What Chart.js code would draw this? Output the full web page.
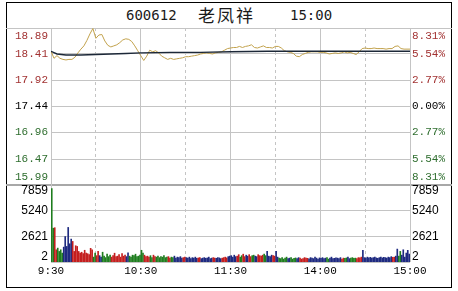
<!DOCTYPE html>
<html lang="zh-CN">
<head>
<meta charset="utf-8">
<title>600612 老凤祥 分时走势</title>
<script src="https://cdn.jsdelivr.net/npm/chart.js@4.4.1/dist/chart.umd.min.js"></script>
<style>
  html, body { margin: 0; padding: 0; background: #fff; }
  #wrap { position: relative; width: 458px; height: 291px; overflow: hidden; }
  #wrap canvas { position: absolute; left: 0; top: 0; }
  .frame { position: absolute; left: 6px; top: 2px; width: 446px; height: 286px; box-sizing: border-box; border: 1px solid #000; }
  .sep { position: absolute; left: 6px; width: 446px; }
  .sep.top { top: 28px; height: 1px; background: #c4c4c4; }
  .sep.mid { top: 184px; height: 2px; background: #a8a8a8; }
  .title { position: absolute; top: 6px; font: 14px/18px "DejaVu Sans Mono", monospace; color: #1a1a1a; }
  .title.name { font: 17px/18px "Noto Sans CJK SC", sans-serif; letter-spacing: 2px; }
</style>
</head>
<body>
<div id="wrap">
  <div class="frame"></div>
  <div class="sep top"></div>
  <div class="sep mid"></div>
  <span class="title" style="left:126px">600612</span>
  <span class="title name" style="left:198px">老凤祥</span>
  <span class="title" style="left:290px">15:00</span>
  <canvas id="priceChart" width="458" height="291"></canvas>
  <canvas id="volumeChart" width="458" height="291"></canvas>
</div>
<script>
const prevClose = 17.44;
const priceTicks = [18.89, 18.41, 17.92, 17.44, 16.96, 16.47, 15.99];
const percentTicks = ["8.31%", "5.54%", "2.77%", "0.00%", "2.77%", "5.54%", "8.31%"];
const volumeTicks = [7859, 5240, 2621, 2];
const gridMinutes = [0, 30, 60, 90, 120, 150, 180, 210, 240];
const labelMinutes = [0, 60, 120, 180, 240];
const timeLabels = ["9:30", "10:30", "11:30", "14:00", "15:00"];

// price every 2 minutes from 9:30 (index 0) to 15:00 (index 120)
const priceStep = 2;
const priceValues = [
  18.46, 18.33, 18.38, 18.33, 18.31, 18.30, 18.31, 18.31, 18.35, 18.43,
  18.50, 18.56, 18.66, 18.78, 18.88, 18.70, 18.76, 18.77, 18.65, 18.57,
  18.54, 18.56, 18.58, 18.62, 18.67, 18.69, 18.68, 18.64, 18.56, 18.47,
  18.38, 18.29, 18.37, 18.48, 18.45, 18.47, 18.43, 18.37, 18.34, 18.31,
  18.33, 18.31, 18.32, 18.33, 18.34, 18.36, 18.36, 18.37, 18.38, 18.39,
  18.41, 18.42, 18.43, 18.42, 18.41, 18.43, 18.44, 18.45, 18.48, 18.51,
  18.52, 18.53, 18.53, 18.55, 18.53, 18.55, 18.56, 18.58, 18.53, 18.52,
  18.54, 18.56, 18.53, 18.53, 18.52, 18.55, 18.55, 18.52, 18.47, 18.45,
  18.44, 18.42, 18.37, 18.36, 18.40, 18.42, 18.44, 18.45, 18.45, 18.45,
  18.44, 18.44, 18.43, 18.41, 18.42, 18.43, 18.42, 18.43, 18.45, 18.43,
  18.44, 18.42, 18.40, 18.45, 18.51, 18.52, 18.51, 18.51, 18.52, 18.51,
  18.51, 18.51, 18.50, 18.51, 18.51, 18.55, 18.56, 18.51, 18.50, 18.50, 18.50
];

const avgMinutes = [0, 4, 10, 20, 30, 40, 50, 60, 80, 100, 120, 145, 180, 240];
const avgValues = [18.46, 18.41, 18.39, 18.39, 18.40, 18.41, 18.42, 18.43, 18.44, 18.44, 18.45, 18.46, 18.46, 18.46];

// volume per minute (240 bars)
const volumes = [
  7500, 3450, 3500, 1250, 1420, 1080, 1250, 910, 1520, 2600,
  1590, 3530, 1860, 2340, 2100, 1080, 1660, 1590, 1080, 910,
  1000, 850, 1200, 900, 850, 750, 1400, 1250, 500, 900,
  650, 1080, 650, 500, 1000,
  600, 450, 800, 550, 700, 500, 650, 900, 550, 600,
  750, 500, 850, 600, 700, 550, 950, 600, 500, 700,
  650, 800, 550, 600, 700,
  1200,
  900, 700, 550, 600, 500, 650, 450, 700, 550, 500,
  600, 450, 550, 500, 650, 450, 500, 550, 400, 500,
  450, 600, 400, 500, 450, 550, 400, 450, 500,
  450, 400, 500, 350, 450, 400, 500, 380, 420, 450,
  350, 400, 450, 380, 420, 500, 350, 400, 450, 400,
  380, 450, 420, 350, 400, 450, 500, 420, 550, 600,
  650, 500, 700, 550, 600, 750, 500, 650, 800, 550,
  700, 600, 750, 550, 650, 700, 600, 550, 750, 650,
  600, 700, 800, 650, 1080, 600, 550, 700, 650, 600,
  1080, 500,
  400, 350, 450, 300, 400, 500, 350, 400, 450, 300,
  380, 420, 350, 450, 400, 300, 350, 450, 400, 380,
  320, 450, 400, 350, 500, 400, 300, 420, 380, 450,
  350, 400, 450, 300, 400, 500, 350, 380, 420, 400,
  350, 450, 300, 400, 380, 420, 500, 350, 400, 450,
  380, 400, 350, 450, 420, 500,
  1190,
  450, 400, 500, 420, 480, 400, 450, 500, 420, 380,
  450, 500, 420, 480, 450, 400, 500, 450, 550, 480,
  500, 600,
  1320, 600, 1085, 700, 1250, 500, 915, 1190, 800
];

const W = 458;
const H = 291;
const plotLeft = 51;
const plotRight = 410;
const priceTop = 28;
const priceBottom = 185;
const volumeBottom = 262;

function barColor(i) {
  const k = Math.floor(i / priceStep);
  const diff = priceValues[k + 1] - priceValues[k];
  if (diff > 0.012) return "#c41e1e";
  if (diff < -0.012) return "#1e7d1e";
  return "#1e2a80";
}

function priceColor(v) {
  if (v > prevClose) return "#a23232";
  if (v < prevClose) return "#2f6e2f";
  return "#000";
}

// draws the left / right axis texts; the edge ones sit inside the panel
const sideLabels = {
  id: "sideLabels",
  afterDraw(chart, args, opts) {
    const { ctx, chartArea } = chart;
    const scale = chart.scales.y;
    const n = opts.values.length;
    ctx.save();
    ctx.font = opts.font;
    ctx.textBaseline = "middle";
    opts.values.forEach((v, i) => {
      let y = scale.getPixelForValue(v);
      if (i === 0) y += opts.edge;
      if (i === n - 1) y -= opts.edge;
      ctx.fillStyle = opts.color(v);
      ctx.textAlign = "right";
      ctx.fillText(opts.left[i], chartArea.left - 3, y);
      ctx.textAlign = "left";
      ctx.fillText(opts.right[i], chartArea.right + 2, y);
    });
    ctx.restore();
  }
};

function timeAxis(showLabels, height) {
  return {
    type: "linear",
    min: 0,
    max: 240,
    offset: false,
    afterBuildTicks: s => { s.ticks = gridMinutes.map(v => ({ value: v })); },
    afterFit: s => { s.height = height; },
    grid: {
      offset: false,
      drawTicks: false,
      color: "#c4c4c4",
      lineWidth: 1
    },
    border: {
      display: false,
      dash: ctx => (ctx.tick && ctx.tick.value % 60 === 30 ? [3, 3] : [])
    },
    ticks: {
      display: showLabels,
      autoSkip: false,
      maxRotation: 0,
      padding: 2,
      color: "#000",
      font: { family: "Liberation Mono", size: 11 },
      callback: value => {
        const i = labelMinutes.indexOf(value);
        return i >= 0 ? timeLabels[i] : "";
      }
    }
  };
}

function createPriceChart() {
  const ctx = document.getElementById("priceChart");
  const lo = Math.min(...priceTicks);
  const hi = Math.max(...priceTicks);

  new Chart(ctx, {
    type: "line",
    data: {
      datasets: [
        {
          label: "均价",
          data: avgMinutes.map((m, i) => ({ x: m, y: avgValues[i] })),
          borderColor: "#1c2838",
          borderWidth: 1.4,
          pointRadius: 0,
          tension: 0
        },
        {
          label: "价格",
          data: priceValues.map((v, i) => ({ x: i * priceStep, y: v })),
          borderColor: "#c2a24c",
          borderWidth: 1,
          pointRadius: 0,
          tension: 0
        }
      ]
    },
    options: {
      responsive: false,
      animation: false,
      devicePixelRatio: 1,
      layout: {
        padding: { top: priceTop, bottom: H - priceBottom, left: 0, right: W - plotRight }
      },
      plugins: {
        legend: { display: false },
        tooltip: { enabled: false },
        sideLabels: {
          values: priceTicks,
          left: priceTicks.map(v => v.toFixed(2)),
          right: percentTicks,
          color: priceColor,
          font: "11px 'Liberation Mono'",
          edge: 8
        }
      },
      scales: {
        x: timeAxis(false, 0),
        y: {
          min: lo,
          max: hi,
          afterBuildTicks: s => { s.ticks = [...priceTicks].reverse().map(v => ({ value: v })); },
          afterFit: s => { s.width = plotLeft; },
          grid: {
            drawTicks: false,
            color: c => (c.tick && (c.tick.value === lo || c.tick.value === hi) ? "rgba(0,0,0,0)" : "#c4c4c4")
          },
          border: { display: false },
          ticks: { display: false }
        }
      }
    },
    plugins: [sideLabels]
  });
}

function createVolumeChart() {
  const ctx = document.getElementById("volumeChart");
  const lo = Math.min(...volumeTicks);
  const hi = Math.max(...volumeTicks);

  new Chart(ctx, {
    type: "bar",
    data: {
      datasets: [
        {
          label: "成交量",
          // each bar sits in the middle of its minute slot
          data: volumes.map((v, i) => ({ x: i + 0.5, y: v })),
          backgroundColor: volumes.map((v, i) => barColor(i)),
          borderWidth: 0,
          barThickness: 1
        }
      ]
    },
    options: {
      responsive: false,
      animation: false,
      devicePixelRatio: 1,
      layout: {
        padding: { top: priceBottom, bottom: 0, left: 0, right: W - plotRight }
      },
      plugins: {
        legend: { display: false },
        tooltip: { enabled: false },
        sideLabels: {
          values: volumeTicks,
          left: volumeTicks.map(String),
          right: volumeTicks.map(String),
          color: () => "#000",
          font: "12px 'Liberation Sans'",
          edge: 5.5
        }
      },
      scales: {
        x: timeAxis(true, H - volumeBottom),
        y: {
          min: lo,
          max: hi,
          afterBuildTicks: s => { s.ticks = [...volumeTicks].reverse().map(v => ({ value: v })); },
          afterFit: s => { s.width = plotLeft; },
          grid: {
            drawTicks: false,
            color: c => (c.tick && c.tick.value === hi ? "rgba(0,0,0,0)" : "#c4c4c4")
          },
          border: { display: false },
          ticks: { display: false }
        }
      }
    },
    plugins: [sideLabels]
  });
}

createPriceChart();
createVolumeChart();
</script>
</body>
</html>
